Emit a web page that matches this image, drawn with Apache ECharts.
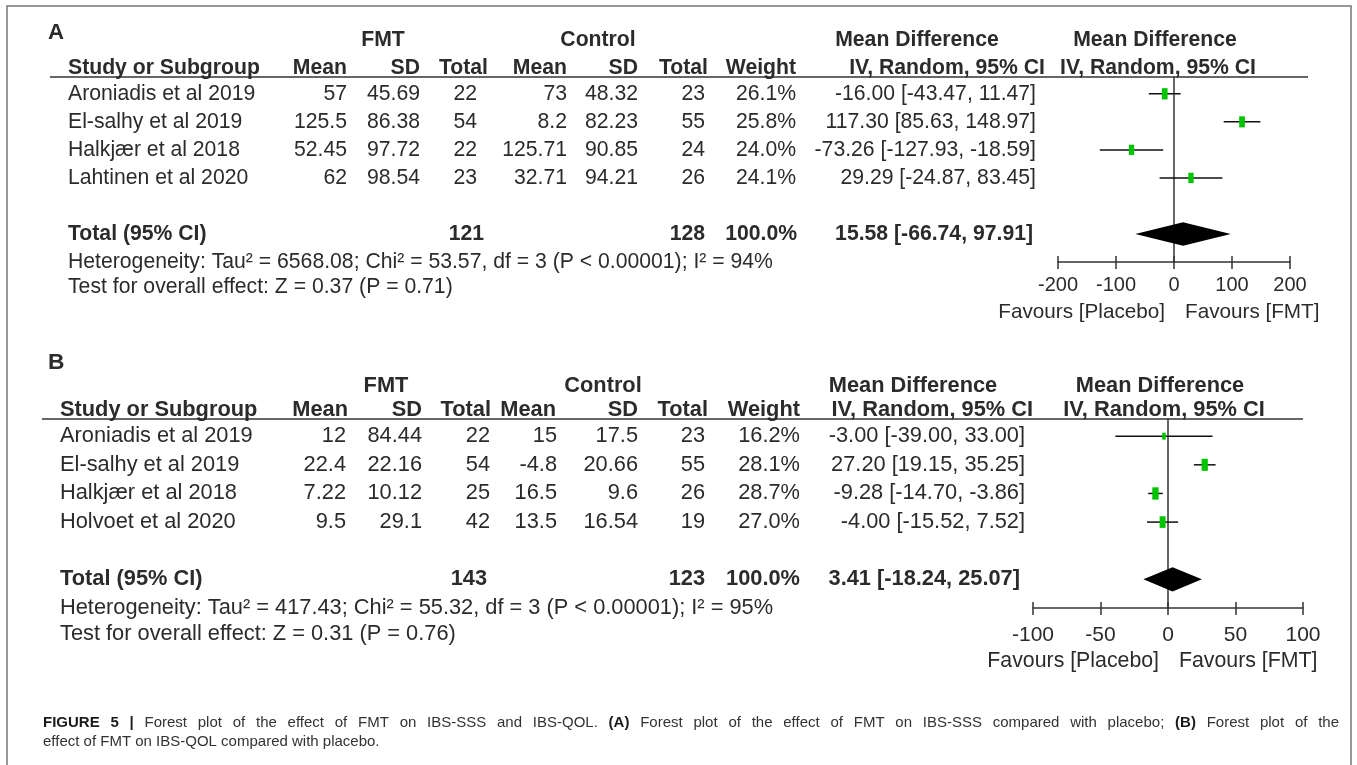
<!DOCTYPE html>
<html>
<head>
<meta charset="utf-8">
<title>Forest plot FMT</title>
<script src="https://cdn.jsdelivr.net/npm/echarts@6/dist/echarts.min.js"></script>
<style>
    html, body { margin: 0; padding: 0; background: #fff; }
    #chart { width: 1357px; height: 765px; }
</style>
</head>
<body>
<div id="chart"></div>
<script>
    // panel A: IBS-SSS
    var studiesA = ['Aroniadis et al 2019', 'El-salhy et al 2019', 'Halkjær et al 2018', 'Lahtinen et al 2020'];
    var fmtMeanA = [57, 125.5, 52.45, 62];
    var fmtSdA = [45.69, 86.38, 97.72, 98.54];
    var fmtTotalA = [22, 54, 22, 23];
    var ctlMeanA = [73, 8.2, 125.71, 32.71];
    var ctlSdA = [48.32, 82.23, 90.85, 94.21];
    var ctlTotalA = [23, 55, 24, 26];
    var weightA = [26.1, 25.8, 24.0, 24.1];
    var mdA = [-16.00, 117.30, -73.26, 29.29];
    var loA = [-43.47, 85.63, -127.93, -24.87];
    var hiA = [11.47, 148.97, -18.59, 83.45];
    var pooledA = [15.58, -66.74, 97.91];
    var totalsA = [121, 128];
    var hetA = 'Heterogeneity: Tau² = 6568.08; Chi² = 53.57, df = 3 (P < 0.00001); I² = 94%';
    var testA = 'Test for overall effect: Z = 0.37 (P = 0.71)';
    var axisA = [-200, 200, 100];

    // panel B: IBS-QOL
    var studiesB = ['Aroniadis et al 2019', 'El-salhy et al 2019', 'Halkjær et al 2018', 'Holvoet et al 2020'];
    var fmtMeanB = [12, 22.4, 7.22, 9.5];
    var fmtSdB = [84.44, 22.16, 10.12, 29.1];
    var fmtTotalB = [22, 54, 25, 42];
    var ctlMeanB = [15, -4.8, 16.5, 13.5];
    var ctlSdB = [17.5, 20.66, 9.6, 16.54];
    var ctlTotalB = [23, 55, 26, 19];
    var weightB = [16.2, 28.1, 28.7, 27.0];
    var mdB = [-3.00, 27.20, -9.28, -4.00];
    var loB = [-39.00, 19.15, -14.70, -15.52];
    var hiB = [33.00, 35.25, -3.86, 7.52];
    var pooledB = [3.41, -18.24, 25.07];
    var totalsB = [143, 123];
    var hetB = 'Heterogeneity: Tau² = 417.43; Chi² = 55.32, df = 3 (P < 0.00001); I² = 95%';
    var testB = 'Test for overall effect: Z = 0.31 (P = 0.76)';
    var axisB = [-100, 100, 50];

    var colHeads = ['Mean', 'SD', 'Total', 'Mean', 'SD', 'Total', 'Weight'];
    // caption, first line is justified; words wrapped in * are bold
    var captionLine1 = '*FIGURE* *5* *|* Forest plot of the effect of FMT on IBS-SSS and IBS-QOL. *(A)* Forest plot of the effect of FMT on IBS-SSS compared with placebo; *(B)* Forest plot of the';
    var captionLine2 = 'effect of FMT on IBS-QOL compared with placebo.';

    var FONT = '"Liberation Sans", Arial, sans-serif';
    var INK = '#2b2b2b';
    var GREEN = '#00c400';

    // layout of each panel (pixels)
    var layoutA = {
        grid: { left: 1058, top: 77, width: 232, height: 185 },
        size: 21.2, tickSize: 20, tickMargin: 13, favY: 312, favGap: [9, 11],
        label: 'A', labelY: 33, groupY: 40, headY: 68, line: [50, 1308],
        studyX: 68, cols: [347, 420, 477, 567, 638, 705, 796, 1036],
        heads: [347, 420, 488, 567, 638, 708, 796], ivX: 1045, mdX: 917,
        fpIvX: 1158, fpMdX: 1155, fmtX: 383, ctlX: 598,
        tot: [484, 705, 797, 1033]
    };
    var layoutB = {
        grid: { left: 1033, top: 419, width: 270, height: 189 },
        size: 21.8, tickSize: 21, tickMargin: 17, favY: 661, favGap: [9, 11],
        label: 'B', labelY: 363, groupY: 386, headY: 410, line: [42, 1303],
        studyX: 60, cols: [346, 422, 490, 557, 638, 705, 800, 1025],
        heads: [348, 422, 491, 556, 638, 708, 800], ivX: 1033, mdX: 913,
        fpIvX: 1164, fpMdX: 1160, fmtX: 386, ctlX: 603,
        tot: [487, 705, 800, 1020]
    };

    var chart = echarts.init(document.getElementById('chart'));

    function ci(md, lo, hi) {
        return md.toFixed(2) + ' [' + lo.toFixed(2) + ', ' + hi.toFixed(2) + ']';
    }

    function studyData(md, lo, hi, w) {
        var out = [];
        for (var i = 0; i < md.length; i++) {
            out.push([md[i], lo[i], hi[i], i + 1, w[i]]);
        }
        return out;
    }

    function renderStudy(params, api) {
        var y = api.value(3);
        var a = api.coord([api.value(1), y]);
        var b = api.coord([api.value(2), y]);
        var m = api.coord([api.value(0), y]);
        var w = api.value(4);
        var sw = w * 0.22, sh = w * 0.43;
        return {
            type: 'group',
            children: [
                { type: 'line', shape: { x1: a[0], y1: a[1], x2: b[0], y2: b[1] }, style: { stroke: '#111', lineWidth: 1.5 } },
                { type: 'rect', shape: { x: m[0] - sw / 2, y: m[1] - sh / 2, width: sw, height: sh }, style: { fill: GREEN } }
            ]
        };
    }

    function renderDiamond(params, api) {
        var y = api.value(3);
        var h = 0.42;
        var pts = [
            api.coord([api.value(1), y]),
            api.coord([api.value(0), y - h]),
            api.coord([api.value(2), y]),
            api.coord([api.value(0), y + h])
        ];
        return { type: 'polygon', shape: { points: pts }, style: { fill: '#000' } };
    }

    function xMain(gi, ax, L) {
        return {
            gridIndex: gi, type: 'value', position: 'bottom', min: ax[0], max: ax[1], interval: ax[2],
            axisLine: { show: true, onZero: false, lineStyle: { color: '#333', width: 1.5 } },
            axisTick: { show: true, inside: false, length: 7, lineStyle: { color: '#333', width: 1.5 } },
            axisLabel: { color: INK, fontSize: L.tickSize, fontFamily: FONT, margin: L.tickMargin },
            splitLine: { show: false }
        };
    }
    function xInner(gi, ax) {
        return {
            gridIndex: gi, type: 'value', position: 'bottom', min: ax[0], max: ax[1], interval: ax[2],
            axisLine: { show: false, onZero: false },
            axisTick: { show: true, inside: true, length: 6, lineStyle: { color: '#333', width: 1.5 } },
            axisLabel: { show: false },
            splitLine: { show: false }
        };
    }
    function yRows(gi) {
        return {
            gridIndex: gi, type: 'value', min: 0.4, max: 7, inverse: true,
            axisLine: { show: true, onZero: true, lineStyle: { color: '#333', width: 1.5 } },
            axisTick: { show: false }, axisLabel: { show: false }, splitLine: { show: false }
        };
    }

    chart.setOption({
        animation: false,
        grid: [layoutA.grid, layoutB.grid],
        xAxis: [xMain(0, axisA, layoutA), xInner(0, axisA), xMain(1, axisB, layoutB), xInner(1, axisB)],
        yAxis: [yRows(0), yRows(1)],
        series: [
            { type: 'custom', xAxisIndex: 0, yAxisIndex: 0, renderItem: renderStudy, encode: { x: [0, 1, 2], y: 3 }, data: studyData(mdA, loA, hiA, weightA), z: 5 },
            { type: 'custom', xAxisIndex: 0, yAxisIndex: 0, renderItem: renderDiamond, encode: { x: [0, 1, 2], y: 3 }, data: [[pooledA[0], pooledA[1], pooledA[2], 6]], z: 5 },
            { type: 'custom', xAxisIndex: 2, yAxisIndex: 1, renderItem: renderStudy, encode: { x: [0, 1, 2], y: 3 }, data: studyData(mdB, loB, hiB, weightB), z: 5 },
            { type: 'custom', xAxisIndex: 2, yAxisIndex: 1, renderItem: renderDiamond, encode: { x: [0, 1, 2], y: 3 }, data: [[pooledB[0], pooledB[1], pooledB[2], 6]], z: 5 }
        ]
    });

    function T(x, y, s, align, bold, size, color) {
        return {
            type: 'text', x: x, y: y, silent: true, z: 10,
            style: {
                text: s, fill: color || INK,
                font: (bold ? 'bold ' : '') + size + 'px ' + FONT,
                textAlign: align, align: align,
                textVerticalAlign: 'middle', verticalAlign: 'middle'
            }
        };
    }

    // table text for one panel, rows placed through the grid's own y scale
    function panelGraphics(gi, L, d) {
        var g = [];
        var fs = L.size;
        var rowY = function (v) { return chart.convertToPixel({ gridIndex: gi }, [0, v])[1]; };
        var zeroX = chart.convertToPixel({ gridIndex: gi }, [0, 1])[0];

        g.push(T(48, L.labelY, L.label, 'left', true, fs + 1));
        g.push(T(L.fmtX, L.groupY, 'FMT', 'center', true, fs));
        g.push(T(L.ctlX, L.groupY, 'Control', 'center', true, fs));
        g.push(T(L.mdX, L.groupY, 'Mean Difference', 'center', true, fs));
        g.push(T(L.fpMdX, L.groupY, 'Mean Difference', 'center', true, fs));

        g.push(T(L.studyX, L.headY, 'Study or Subgroup', 'left', true, fs));
        for (var c = 0; c < colHeads.length; c++) {
            g.push(T(L.heads[c], L.headY, colHeads[c], 'right', true, fs));
        }
        g.push(T(L.ivX, L.headY, 'IV, Random, 95% CI', 'right', true, fs));
        g.push(T(L.fpIvX, L.headY, 'IV, Random, 95% CI', 'center', true, fs));

        g.push({
            type: 'line', silent: true, z: 9,
            shape: { x1: L.line[0], y1: L.grid.top, x2: L.line[1], y2: L.grid.top },
            style: { stroke: '#333', lineWidth: 1.5 }
        });

        for (var i = 0; i < d.studies.length; i++) {
            var y = rowY(i + 1);
            var vals = [d.fm[i], d.fs[i], d.ft[i], d.cm[i], d.cs[i], d.ct[i], d.w[i].toFixed(1) + '%', ci(d.md[i], d.lo[i], d.hi[i])];
            g.push(T(L.studyX, y, d.studies[i], 'left', false, fs));
            for (var k = 0; k < vals.length; k++) {
                g.push(T(L.cols[k], y, String(vals[k]), 'right', false, fs));
            }
        }

        var yt = rowY(6);
        g.push(T(L.studyX, yt, 'Total (95% CI)', 'left', true, fs));
        g.push(T(L.tot[0], yt, String(d.totals[0]), 'right', true, fs));
        g.push(T(L.tot[1], yt, String(d.totals[1]), 'right', true, fs));
        g.push(T(L.tot[2], yt, '100.0%', 'right', true, fs));
        g.push(T(L.tot[3], yt, ci(d.pooled[0], d.pooled[1], d.pooled[2]), 'right', true, fs));
        g.push(T(L.studyX, rowY(7), d.het, 'left', false, fs));
        g.push(T(L.studyX, rowY(7.9), d.test, 'left', false, fs));

        g.push(T(zeroX - L.favGap[0], L.favY, 'Favours [Placebo]', 'right', false, fs - 0.5));
        g.push(T(zeroX + L.favGap[1], L.favY, 'Favours [FMT]', 'left', false, fs - 0.5));
        return g;
    }

    var graphics = [{
        type: 'rect', silent: true, z: 1,
        shape: { x: 7, y: 6, width: 1344, height: 770 },
        style: { fill: 'none', stroke: '#777', lineWidth: 1.5 }
    }];

    graphics = graphics.concat(panelGraphics(0, layoutA, {
        studies: studiesA, fm: fmtMeanA, fs: fmtSdA, ft: fmtTotalA, cm: ctlMeanA, cs: ctlSdA, ct: ctlTotalA,
        w: weightA, md: mdA, lo: loA, hi: hiA, pooled: pooledA, totals: totalsA, het: hetA, test: testA
    }));
    graphics = graphics.concat(panelGraphics(1, layoutB, {
        studies: studiesB, fm: fmtMeanB, fs: fmtSdB, ft: fmtTotalB, cm: ctlMeanB, cs: ctlSdB, ct: ctlTotalB,
        w: weightB, md: mdB, lo: loB, hi: hiB, pooled: pooledB, totals: totalsB, het: hetB, test: testB
    }));

    // figure caption: justified first line, word by word
    var CAP = 15;
    var measure = document.createElement('canvas').getContext('2d');
    function capFont(bold) { return (bold ? 'bold ' : '') + CAP + 'px ' + FONT; }
    var words = captionLine1.split(' ').map(function (w) {
        var bold = w.charAt(0) === '*';
        var t = bold ? w.slice(1, -1) : w;
        measure.font = capFont(bold);
        return { t: t, bold: bold, w: measure.measureText(t).width };
    });
    var capLeft = 43, capRight = 1339;
    var used = words.reduce(function (s, w) { return s + w.w; }, 0);
    var gap = (capRight - capLeft - used) / (words.length - 1);
    var cx = capLeft;
    words.forEach(function (w) {
        graphics.push(T(cx, 723, w.t, 'left', w.bold, CAP, w.bold ? '#1a1a1a' : '#333'));
        cx += w.w + gap;
    });
    graphics.push(T(capLeft, 742, captionLine2, 'left', false, CAP, '#333'));

    chart.setOption({ graphic: graphics });
</script>
</body>
</html>
